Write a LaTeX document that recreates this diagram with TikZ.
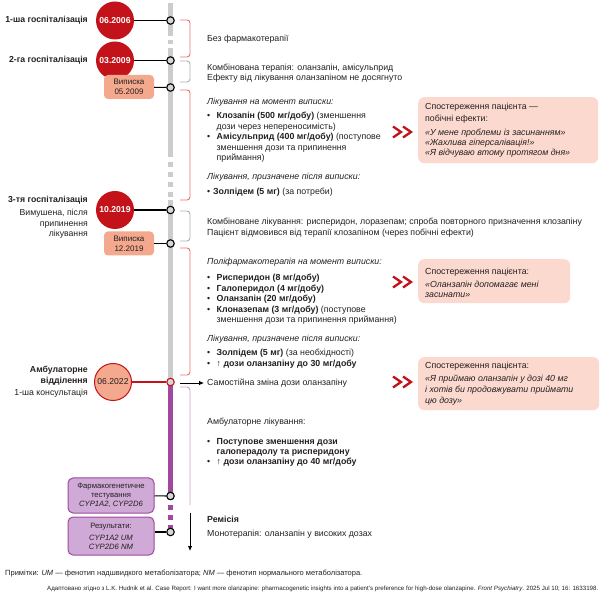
\documentclass[tikz,border=0pt]{standalone}
\usepackage{fontspec}
\setmainfont{Liberation Sans}
\usetikzlibrary{arrows.meta}
\definecolor{dred}{RGB}{196,18,26}
\definecolor{salmon}{RGB}{244,168,142}
\definecolor{obsfill}{RGB}{252,217,207}
\definecolor{barg}{RGB}{204,204,204}
\definecolor{tcfill}{RGB}{215,215,215}
\definecolor{brred}{RGB}{232,112,112}
\definecolor{brgray}{RGB}{175,175,175}
\definecolor{brpurp}{RGB}{205,160,205}
\definecolor{purp}{RGB}{160,72,160}
\definecolor{lpurp}{RGB}{208,170,214}
\definecolor{txtc}{RGB}{35,31,32}
\newcommand\vlines[2][10.4pt]{\vtop{\baselineskip=#1\lineskiplimit=-20pt\halign{##\hfil\cr#2\crcr}}}
\newcommand\rlines[2][10.4pt]{\vtop{\baselineskip=#1\lineskiplimit=-20pt\halign{\hfil##\cr#2\crcr}}}
\newcommand\bul[1]{\makebox[9.5pt][l]{•}#1}
\newcommand\ind[1]{\hspace*{9.5pt}#1}
\begin{document}
\begin{tikzpicture}[x=1pt,y=-1pt,
  txt/.style={inner sep=0pt, anchor=base west, font=\fontsize{8.8}{10}\selectfont, text=txtc},
  lab/.style={inner sep=0pt, anchor=base east, font=\fontsize{8.7}{10}\selectfont, text=txtc},
  bigc/.style={circle, fill=dred, minimum size=38pt, inner sep=0pt, text=white, font=\bfseries\fontsize{8.6}{9}\selectfont},
  tc/.style={circle, draw=black, line width=1.1pt, fill=tcfill, minimum size=7.5pt, inner sep=0pt},
  conn/.style={black, line width=1.1pt},
  bar/.style={barg, line width=5pt},
  pbar/.style={purp, line width=5pt},
  brk/.style={line width=0.9pt, rounded corners=3pt},
  disch/.style={rounded corners=4pt, fill=salmon, minimum width=50pt, minimum height=24pt, inner sep=0pt, align=center, font=\fontsize{8}{10}\selectfont, text=txtc},
  pbox/.style={rounded corners=5pt, fill=lpurp, draw=purp, line width=1pt, minimum width=86pt, inner sep=0pt, align=center, font=\fontsize{7.7}{9}\selectfont, text=txtc},
  obs/.style={rounded corners=6pt, fill=obsfill, inner sep=0pt, anchor=north west},
  chev/.style={dred, line width=2.3pt, miter limit=10},
  arr/.style={black, line width=0.8pt, -{Latex[length=5pt,width=4.5pt]}}]
\useasboundingbox (0,0) rectangle (600,593);

% timeline bar
\draw[bar] (170.5,3) -- (170.5,36);
\draw[bar] (170.5,40) -- (170.5,44);
\draw[bar] (170.5,48) -- (170.5,152);
\draw[bar, dash pattern=on 5pt off 5pt] (170.5,152) -- (170.5,197);
\draw[bar] (170.5,200) -- (170.5,382);
\draw[pbar] (170.5,382) -- (170.5,500);
\draw[pbar, dash pattern=on 5pt off 5pt] (170.5,505) -- (170.5,531);

% brackets
\draw[brk, brred] (180,20) -- (190,20) -- (190,57) -- (180,57);
\draw[brk, brgray] (180,61) -- (190,61) -- (190,82) -- (180,82);
\draw[brk, brred] (180,90) -- (190,90) -- (190,200) -- (180,200);
\draw[brk, brgray] (180,211) -- (190,211) -- (190,241) -- (180,241);
\draw[brk, brred] (180,248) -- (190,248) -- (190,375) -- (180,375);
\draw[brk, brpurp] (180,387) -- (190,387) -- (190,505);

% big circles
\node[bigc] (h1) at (115,20.5) {06.2006};
\node[bigc] (h2) at (115,60.5) {03.2009};
\node[bigc] (h3) at (115,210) {10.2019};
\node[circle, fill=salmon, draw=dred, line width=1pt, minimum size=37pt, inner sep=0pt, text=txtc, font=\fontsize{8.6}{9}\selectfont] (h4) at (113,382) {06.2022};

% discharge boxes
\node[disch] (d1) at (129,87) {Виписка\\05.2009};
\node[disch] (d2) at (129,243.5) {Виписка\\12.2019};

% purple boxes
\node[pbox, minimum height=35pt] (p1) at (111,495.5) {Фармакогенетичне\\тестування\\\textit{CYP1A2, CYP2D6}};
\node[pbox, minimum height=38pt] (p2) at (111,536) {Результати:\\[3pt]\textit{CYP1A2 UM}\\\textit{CYP2D6 NM}};

% timeline points
\node[tc] (t1) at (170.5,20.5) {};
\node[tc] (t2) at (170.5,60.5) {};
\node[tc] (t3) at (170.5,87.5) {};
\node[tc] (t4) at (170.5,210) {};
\node[tc] (t5) at (170.5,243.5) {};
\node[tc, draw=dred] (t6) at (170.5,382) {};
\node[tc] (t7) at (170.5,496) {};
\node[tc] (t8) at (170.5,532) {};

\draw[conn] (h1) -- (t1);
\draw[conn] (h2) -- (t2);
\draw[conn] (d1) -- (t3);
\draw[conn] (h3) -- (t4);
\draw[conn] (d2) -- (t5);
\draw[conn, dred] (h4) -- (t6);
\draw[conn] (p1) -- (t7);
\draw[conn] (p2.east |- t8) -- (t8);

% left labels
\node[lab] (l1) at (88,23) {\textbf{1-ша госпіталізація}};
\node[lab] (l2) at (88,63) {\textbf{2-га госпіталізація}};
\node[lab] (l3) at (88,203) {\rlines{\textbf{3-тя госпіталізація}\cr\noalign{\vskip 2.6pt}Вимушена, після\cr припинення\cr лікування}};
\node[lab] (l4) at (88,373) {\rlines{\textbf{Амбулаторне}\cr\textbf{відділення}\cr\noalign{\vskip 1.6pt}1-ша консультація}};

% right texts
\node[txt] (nopharm) at (207,42) {Без фармакотерапії};
\node[txt] (combo1) at (207,70.5) {\vlines[10pt]{Комбінована терапія: оланзапін, амісульприд\cr Ефекту від лікування оланзапіном не досягнуто}};
\node[txt] (dis1) at (207,105) {\vlines{\textit{Лікування на момент виписки:}\cr\noalign{\vskip 3.6pt}
\bul{\textbf{Клозапін (500 мг/добу)} (зменшення}\cr
\ind{дози через непереносимість)}\cr
\bul{\textbf{Амісульприд (400 мг/добу)} (поступове}\cr
\ind{зменшення дози та припинення}\cr
\ind{приймання)}\cr\noalign{\vskip 8.6pt}
\textit{Лікування, призначене після виписки:}\cr\noalign{\vskip 4.6pt}
\makebox[6pt][l]{•}\textbf{Золпідем (5 мг)} (за потреби)}};
\node[txt] (combo2) at (207,225) {\vlines[11pt]{Комбіноване лікування: рисперидон, лоразепам; спроба повторного призначення клозапіну\cr Пацієнт відмовився від терапії клозапіном (через побічні ефекти)}};
\node[txt] (dis2) at (207,265) {\vlines{\textit{Поліфармакотерапія на момент виписки:}\cr\noalign{\vskip 5.6pt}
\bul{\textbf{Рисперидон (8 мг/добу)}}\cr
\bul{\textbf{Галоперидол (4 мг/добу)}}\cr
\bul{\textbf{Оланзапін (20 мг/добу)}}\cr
\bul{\textbf{Клоназепам (3 мг/добу)} (поступове}\cr
\ind{зменшення дози та припинення приймання)}\cr\noalign{\vskip 9pt}
\textit{Лікування, призначене після виписки:}\cr\noalign{\vskip 3.6pt}
\bul{\textbf{Золпідем (5 мг)} (за необхідності)}\cr
\bul{↑ \textbf{дози оланзапіну до 30 мг/добу}}}};
\node[txt] (self) at (207,386) {Самостійна зміна дози оланзапіну};
\node[txt] (amb) at (207,425) {\vlines[10pt]{Амбулаторне лікування:\cr\noalign{\vskip 10pt}
\bul{\textbf{Поступове зменшення дози}}\cr
\ind{\textbf{галоперадолу та рисперидону}}\cr
\bul{↑ \textbf{дози оланзапіну до 40 мг/добу}}}};
\node[txt] (rem) at (207,522) {\vlines[14pt]{\textbf{Ремісія}\cr Монотерапія: оланзапін у високих дозах}};

% arrows
\coordinate (a1) at (180,383);
\coordinate (a2) at (204,383);
\draw[arr] (a1) -- (a2);
\coordinate (r1) at (190,513);
\coordinate (r2) at (190,551);
\draw[arr] (r1) -- (r2);

% observation boxes
\node[obs, minimum width=180pt, minimum height=66pt] (o1) at (418,97) {};
\node[txt] (o1t) at (425,110) {\vlines[9.6pt]{Спостереження пацієнта —\cr\noalign{\vskip 2.4pt}побічні ефекти:\cr\noalign{\vskip 4.4pt}
\textit{«У мене проблеми із засинанням»}\cr
\textit{«Жахлива гіперсалівація!»}\cr
\textit{«Я відчуваю втому протягом дня»}}};
\node[obs, minimum width=152pt, minimum height=44pt] (o2) at (418,259) {};
\node[txt] (o2t) at (425,275) {\vlines[10pt]{Спостереження пацієнта:\cr\noalign{\vskip 3pt}
\textit{«Оланзапін допомагає мені}\cr
\textit{засинати»}}};
\node[obs, minimum width=181pt, minimum height=53pt] (o3) at (418,357) {};
\node[txt] (o3t) at (425,369) {\vlines[10.8pt]{Спостереження пацієнта:\cr\noalign{\vskip 2.2pt}
\textit{«Я приймаю оланзапін у дозі 40 мг}\cr
\textit{і хотів би продовжувати приймати}\cr
\textit{цю дозу»}}};

% chevrons
\foreach \cy in {132,282,382}{
  \draw[chev] (393,\cy-5.5) -- (401,\cy) -- (393,\cy+5.5);
  \draw[chev] (403,\cy-5.5) -- (411,\cy) -- (403,\cy+5.5);
}

% footer
\node[txt, font=\fontsize{7.5}{9}\selectfont] (note) at (5,575.5) {Примітки: \textit{UM} — фенотип надшвидкого метаболізатора; \textit{NM} — фенотип нормального метаболізатора.};
\node[txt, font=\fontsize{6.17}{7}\selectfont] (src) at (47,590) {Адаптовано згідно з L.K. Hudnik et al. Case Report: I want more olanzapine: pharmacogenetic insights into a patient's preference for high-dose olanzapine. \textit{Front Psychiatry}. 2025 Jul 10; 16: 1633198.};
\end{tikzpicture}
\end{document}
